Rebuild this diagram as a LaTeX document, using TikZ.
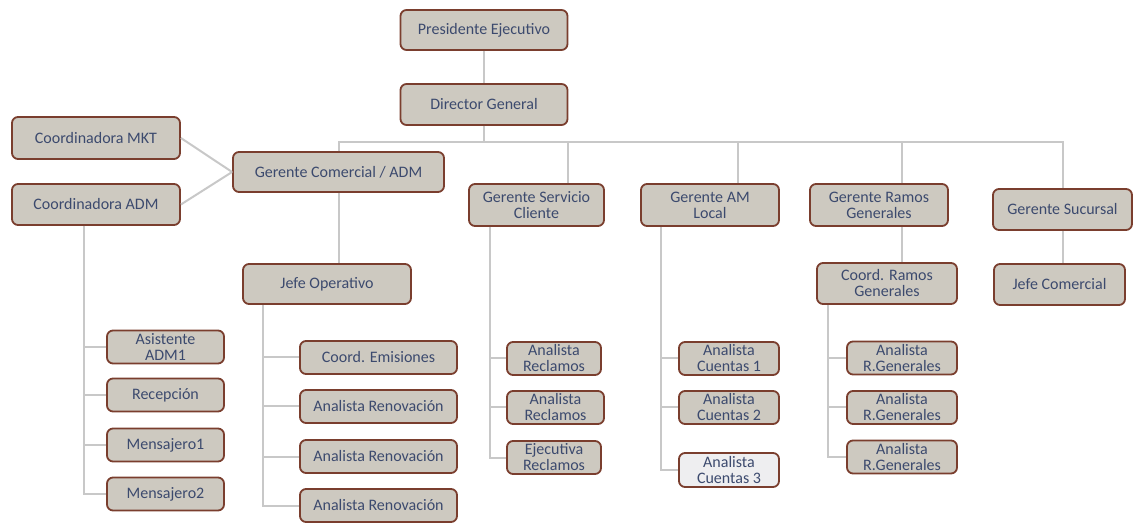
\documentclass[tikz,border=0pt]{standalone}
\usepackage{fontspec}
\setmainfont{Carlito}
\definecolor{boxfill}{HTML}{CDC9C0}
\definecolor{boxlight}{HTML}{EEEEF0}
\definecolor{boxline}{HTML}{7A3E2E}
\definecolor{boxtext}{HTML}{3C4A6E}
\definecolor{linkgray}{HTML}{C8C8C8}
\begin{document}
\begin{tikzpicture}[x=0.5pt,y=-0.5pt,inner sep=1pt,
orgbox/.style={draw=boxline,fill=boxfill,rounded corners=3pt,line width=0.9pt,align=center,text=boxtext,font=\fontsize{8}{8}\selectfont},
leaf/.style={orgbox,inner sep=0pt,minimum height=16.5pt},
link/.style={draw=linkgray,line width=1pt}]
\useasboundingbox (0,0) rectangle (1140,523);
\draw (484,30) node[orgbox,minimum width=83.5pt,minimum height=20pt] (pres) {Presidente Ejecutivo};
\draw (484,104.5) node[orgbox,minimum width=83.5pt,minimum height=20.5pt] (dir) {Director General};
\draw (338.5,172) node[orgbox,minimum width=105.5pt,minimum height=20pt] (gcom) {Gerente Comercial / ADM};
\draw (96,138) node[orgbox,minimum width=84pt,minimum height=21pt] (cmkt) {Coordinadora MKT};
\draw (96,204.5) node[orgbox,minimum width=84pt,minimum height=20.5pt] (cadm) {Coordinadora ADM};
\draw (536.5,205) node[orgbox,minimum width=67.5pt,minimum height=21pt] (gsc) {Gerente Servicio\\Cliente};
\draw (710,205) node[orgbox,minimum width=69pt,minimum height=21pt] (gam) {Gerente AM\\Local};
\draw (879,205) node[orgbox,minimum width=69pt,minimum height=21pt] (grg) {Gerente Ramos\\Generales};
\draw (1062.5,209.5) node[orgbox,minimum width=69.5pt,minimum height=20.5pt] (gsuc) {Gerente Sucursal};
\draw (327,284) node[orgbox,minimum width=84pt,minimum height=20pt] (jop) {Jefe Operativo};
\draw (887,283.5) node[orgbox,minimum width=70pt,minimum height=20.5pt] (crg) {Coord. Ramos\\Generales};
\draw (1059.5,284.5) node[orgbox,minimum width=65.5pt,minimum height=20.5pt] (jcom) {Jefe Comercial};
\draw (165.5,347) node[leaf,minimum width=58.5pt] (asis) {Asistente\\ADM1};
\draw (165.5,395) node[leaf,minimum width=58.5pt] (recep) {Recepción};
\draw (165.5,445) node[leaf,minimum width=58.5pt] (men1) {Mensajero1};
\draw (165.5,494) node[leaf,minimum width=58.5pt] (men2) {Mensajero2};
\draw (378.5,357.5) node[leaf,minimum width=78.5pt] (cemi) {Coord. Emisiones};
\draw (378.5,406.5) node[leaf,minimum width=78.5pt] (aren1) {Analista Renovación};
\draw (378.5,456.5) node[leaf,minimum width=78.5pt] (aren2) {Analista Renovación};
\draw (378.5,505.5) node[leaf,minimum width=78.5pt] (aren3) {Analista Renovación};
\draw (554,358.5) node[leaf,minimum width=47pt] (arec1) {Analista\\Reclamos};
\draw (555.5,407.5) node[leaf,minimum width=48.5pt] (arec2) {Analista\\Reclamos};
\draw (554,457.5) node[leaf,minimum width=47pt] (ejec) {Ejecutiva\\Reclamos};
\draw (729,358.5) node[leaf,minimum width=50pt] (acu1) {Analista\\Cuentas 1};
\draw (729,407.5) node[leaf,minimum width=50pt] (acu2) {Analista\\Cuentas 2};
\draw (729,470) node[leaf,minimum width=50pt,minimum height=17pt,fill=boxlight] (acu3) {Analista\\Cuentas 3};
\draw (902,358) node[leaf,minimum width=55pt] (arg1) {Analista\\R.Generales};
\draw (902,407.5) node[leaf,minimum width=55pt] (arg2) {Analista\\R.Generales};
\draw (902,457) node[leaf,minimum width=55pt] (arg3) {Analista\\R.Generales};
\coordinate (bus) at ([yshift=-8pt]dir.south);
\draw[link] (pres) -- (dir);
\draw[link] (dir) -- (bus);
\draw[link] (gcom.north) |- (bus) -| (gsuc.north);
\draw[link] ([xshift=15.5pt]gsc.north) -- ([xshift=15.5pt]gsc.north |- bus);
\draw[link] ([xshift=14pt]gam.north) -- ([xshift=14pt]gam.north |- bus);
\draw[link] ([xshift=11.5pt]grg.north) -- ([xshift=11.5pt]grg.north |- bus);
\draw[link] (cmkt.east) -- (gcom.west);
\draw[link] (cadm.east) -- (gcom.west);
\draw[link] (gcom.south) -- (gcom.south |- jop.north);
\draw[link] ([xshift=11.5pt]grg.south) -- ([xshift=11.5pt]grg.south |- crg.north);
\draw[link] (gsuc.south) -- (gsuc.south |- jcom.north);
\coordinate (admrail) at ([xshift=-6pt]cadm.south);
\draw[link] (admrail) |- (men2.west);
\foreach \n in {asis,recep,men1} \draw[link] (\n.west) -- (\n.west -| admrail);
\coordinate (oprail) at ([xshift=-32pt]jop.south);
\draw[link] (oprail) |- (aren3.west);
\foreach \n in {cemi,aren1,aren2} \draw[link] (\n.west) -- (\n.west -| oprail);
\coordinate (screl) at ([xshift=-23.5pt]gsc.south);
\draw[link] (screl) |- (ejec.west);
\foreach \n in {arec1,arec2} \draw[link] (\n.west) -- (\n.west -| screl);
\coordinate (amrail) at ([xshift=-24.5pt]gam.south);
\draw[link] (amrail) |- (acu3.west);
\foreach \n in {acu1,acu2} \draw[link] (\n.west) -- (\n.west -| amrail);
\coordinate (rgrail) at ([xshift=-29.5pt]crg.south);
\draw[link] (rgrail) |- (arg3.west);
\foreach \n in {arg1,arg2} \draw[link] (\n.west) -- (\n.west -| rgrail);
\end{tikzpicture}
\end{document}
